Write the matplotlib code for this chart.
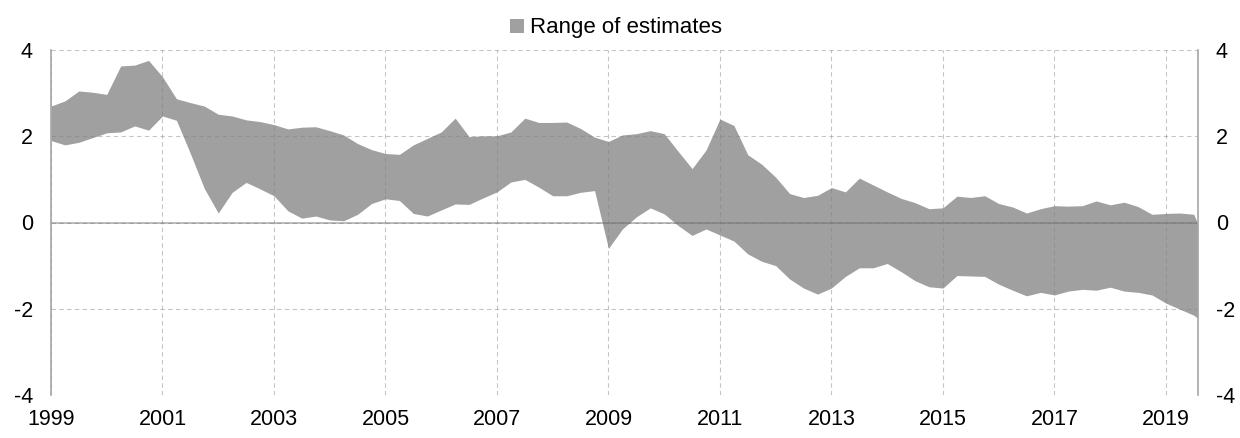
import numpy as np
import matplotlib
matplotlib.use("Agg")
import matplotlib.pyplot as plt
from matplotlib.patches import Patch

plt.rcParams['font.family'] = ['Liberation Sans', 'DejaVu Sans']
plt.rcParams['axes.unicode_minus'] = False

# Quarterly dates 1999Q1 .. 2019Q3, plus the final observation at the axis edge
dates = list(1999 + np.arange(83) / 4.0) + [2019.57]

upper = [2.70, 2.82, 3.05, 3.02, 2.97, 3.63, 3.65, 3.76, 3.38, 2.87,
         2.78, 2.70, 2.51, 2.47, 2.38, 2.34, 2.27, 2.17, 2.21, 2.22,
         2.13, 2.03, 1.83, 1.69, 1.60, 1.58, 1.80, 1.95, 2.10, 2.42,
         1.99, 2.01, 2.01, 2.10, 2.42, 2.32, 2.32, 2.33, 2.18, 1.98,
         1.88, 2.03, 2.06, 2.13, 2.06, 1.65, 1.25, 1.68, 2.40, 2.25,
         1.57, 1.35, 1.05, 0.67, 0.58, 0.63, 0.81, 0.71, 1.03, 0.87,
         0.71, 0.56, 0.46, 0.32, 0.34, 0.61, 0.58, 0.62, 0.44, 0.36,
         0.22, 0.32, 0.39, 0.38, 0.39, 0.50, 0.41, 0.47, 0.37, 0.19,
         0.21, 0.22, 0.19, -0.03]

lower = [1.90, 1.80, 1.86, 1.97, 2.08, 2.10, 2.24, 2.14, 2.47, 2.37,
         1.60, 0.79, 0.22, 0.70, 0.93, 0.78, 0.62, 0.27, 0.10, 0.15,
         0.06, 0.04, 0.19, 0.44, 0.55, 0.51, 0.21, 0.15, 0.29, 0.43,
         0.42, 0.57, 0.71, 0.94, 1.00, 0.82, 0.62, 0.62, 0.70, 0.74,
         -0.60, -0.15, 0.13, 0.34, 0.20, -0.07, -0.30, -0.15, -0.29, -0.43,
         -0.73, -0.90, -1.00, -1.31, -1.52, -1.66, -1.52, -1.25, -1.05, -1.05,
         -0.95, -1.14, -1.35, -1.49, -1.52, -1.23, -1.24, -1.25, -1.43, -1.57,
         -1.70, -1.62, -1.68, -1.59, -1.55, -1.57, -1.50, -1.59, -1.62, -1.68,
         -1.87, -2.01, -2.15, -2.22]

x_ticks = [1999, 2001, 2003, 2005, 2007, 2009, 2011, 2013, 2015, 2017, 2019]
y_ticks = [-4, -2, 0, 2, 4]
legend_label = "Range of estimates"
fill_color = "#a0a0a0"

fig = plt.figure(figsize=(12.4, 4.38), dpi=100)
ax = fig.add_axes([51/1240, 1 - 395/438, (1197.7 - 51)/1240, (395 - 50)/438])

ax.fill_between(dates, lower, upper, color=fill_color, linewidth=0, zorder=1)

ax.set_xlim(1999, 2019.57)
ax.set_ylim(-4, 4)
ax.set_xticks(x_ticks)
ax.set_xticklabels([str(t) for t in x_ticks])
ax.set_yticks(y_ticks)
ax.set_yticklabels([str(t) for t in y_ticks])

ax.grid(True, color="#808080", alpha=0.45, linestyle=(0, (4, 3)), linewidth=0.8, zorder=2)
ax.set_axisbelow(False)
ax.axhline(0, color="#707070", alpha=0.5, linewidth=1.3, zorder=3)

for side in ["top", "bottom"]:
    ax.spines[side].set_visible(False)
for side in ["left", "right"]:
    ax.spines[side].set_color("#a6a6a6")
    ax.spines[side].set_linewidth(1.2)
    ax.spines[side].set_zorder(4)

ax.tick_params(axis="y", which="both", length=0, labelsize=15.5, pad=13,
               left=False, right=False, labelleft=True, labelright=True)
ax.tick_params(axis="x", which="both", length=0, labelsize=15.5, pad=10)

handle = Patch(facecolor=fill_color, edgecolor="none")
fig.legend([handle], [legend_label], loc="center", bbox_to_anchor=(0.497, 1 - 28/438),
           frameon=False, fontsize=16, handlelength=0.6, handleheight=0.6,
           handletextpad=0.3)

fig.savefig("out.png", dpi=100)
